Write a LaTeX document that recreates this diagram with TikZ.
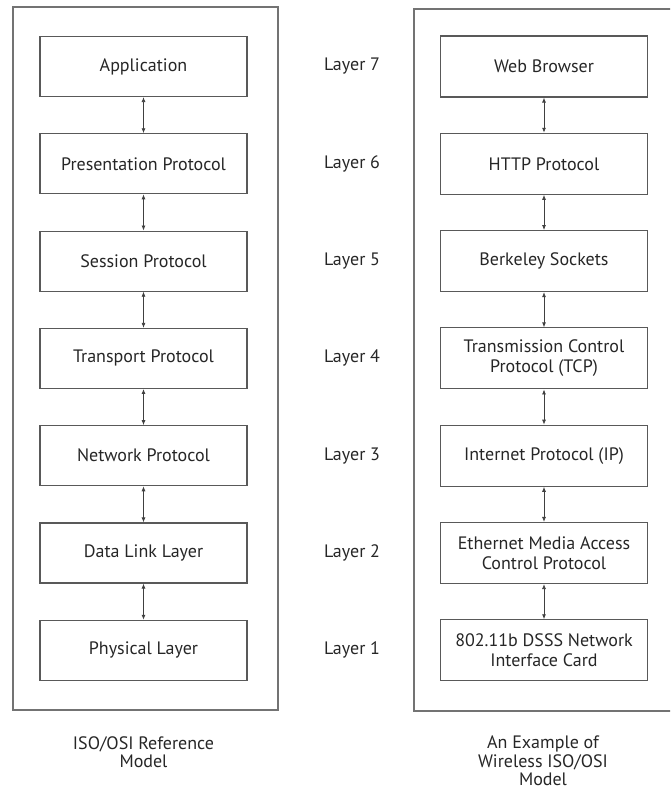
\documentclass[tikz,border=0pt]{standalone}
\usepackage{fontspec}
\setmainfont{PT Sans}
\usetikzlibrary{arrows.meta}

\tikzset{
  layerbox/.style={draw=black!65, line width=1.1pt, minimum width=207pt, minimum height=60pt,
    inner sep=0pt, align=center, text=black!85, font=\fontsize{18}{20}\selectfont},
  layerlabel/.style={text=black!85, font=\fontsize{18}{20}\selectfont},
  caption/.style={align=center, text=black!85, font=\fontsize{18}{18.5}\selectfont},
  frame/.style={draw=black!55, line width=1.1pt},
  link/.style={{Latex[length=5pt,width=4pt]}-{Latex[length=5pt,width=4pt]}, line width=0.8pt, draw=black!75}
}

\begin{document}
\begin{tikzpicture}[x=1pt,y=-1pt]
            \useasboundingbox (0,0) rectangle (670,793);
            \clip (0,0) rectangle (670,793);
            \draw[frame] (13,7) rectangle (278,710);
            \draw[frame] (414,9) rectangle (682,711);
            \foreach \osi/\wifi [count=\i] in {
                {Application}/{Web Browser},
                {Presentation Protocol}/{HTTP Protocol},
                {Session Protocol}/{Berkeley Sockets},
                {Transport Protocol}/{Transmission Control\\Protocol (TCP)},
                {Network Protocol}/{Internet Protocol (IP)},
                {Data Link Layer}/{Ethernet Media Access\\Control Protocol},
                {Physical Layer}/{802.11b DSSS Network\\Interface Card}}{
                \pgfmathsetmacro{\rowy}{66.5+97.3*(\i-1)}
                \pgfmathtruncatemacro{\lay}{8-\i}
                \node[layerbox] (osi\i) at (143.5,\rowy) {\osi};
                \node[layerbox, minimum height=61pt] (wifi\i) at (544,\rowy) {\wifi};
                \node[layerlabel] (lay\i) at (352,\rowy) {Layer \lay};
            }
            \foreach \i in {1,...,6}{
                \pgfmathtruncatemacro{\j}{\i+1}
                \draw[link] (osi\i.south) -- (osi\j.north);
                \draw[link] (wifi\i.south) -- (wifi\j.north);
            }
            \node[caption] (osicap) at (143.5,752) {ISO/OSI Reference\\Model};
            \node[caption] (wificap) at (543,761) {An Example of\\Wireless ISO/OSI\\Model};
        \end{tikzpicture}
\end{document}
